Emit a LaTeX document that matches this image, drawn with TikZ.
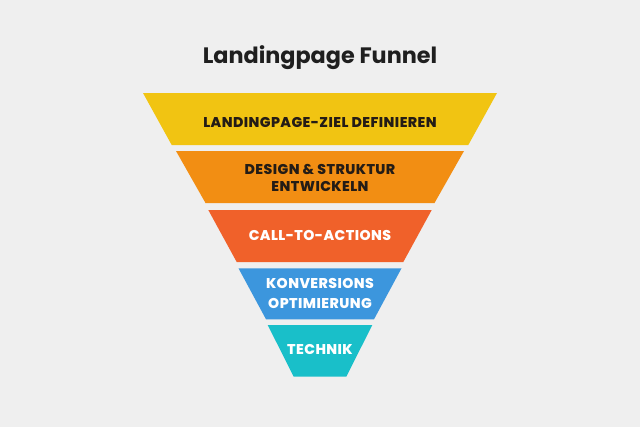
\documentclass[tikz,border=0pt]{standalone}
\usepackage{fontspec}
\setmainfont{Poppins}
\newfontfamily\titlefont{Poppins}[UprightFont=* Bold]
\newfontfamily\labelfont{Poppins}[UprightFont=* ExtraBold,LetterSpace=3]
\definecolor{bgc}{HTML}{EFEFEF}
\definecolor{c1}{HTML}{F1C412}
\definecolor{c2}{HTML}{F28E13}
\definecolor{c3}{HTML}{F0612A}
\definecolor{c4}{HTML}{3C96DD}
\definecolor{c5}{HTML}{19BFC9}
\definecolor{darktext}{HTML}{241C16}
\tikzset{
  lbl/.style={font=\labelfont\fontsize{14.2}{17.7}\selectfont, align=center, inner sep=0pt},
  titlestyle/.style={font=\titlefont\fontsize{22.4}{26}\selectfont, text=black!88, inner sep=0pt}
}
\newcommand{\funnellayer}[5]{%
  \fill[#5] (320-#3,#1) -- (320+#3,#1) -- (320+#4,#2) -- (320-#4,#2) -- cycle;}
\begin{document}
\begin{tikzpicture}[x=1bp,y=-1bp]
\fill[bgc] (0,0) rectangle (640,427);
\useasboundingbox (0,0) rectangle (640,427);
\node[titlestyle, anchor=base] (title) at (320,63.3) {Landingpage Funnel};
\funnellayer{93}{145}{177}{148.3}{c1}
\funnellayer{151}{203}{144}{114.5}{c2}
\funnellayer{210}{262}{111.7}{83.3}{c3}
\funnellayer{268.3}{319.3}{81.5}{54}{c4}
\funnellayer{325}{376.7}{52.3}{26.3}{c5}
\node[lbl, text=darktext, anchor=base] (l1) at (320,127.3) {LANDINGPAGE-ZIEL DEFINIEREN};
\node[lbl, text=darktext, anchor=base] (l2) at (320,191.7) {DESIGN \& STRUKTUR\\ENTWICKELN};
\node[lbl, text=white, anchor=base] (l3) at (320,240.7) {CALL-TO-ACTIONS};
\node[lbl, text=white, anchor=base] (l4) at (320,308.3) {KONVERSIONS\\[2.3bp]OPTIMIERUNG};
\node[lbl, text=white, anchor=base] (l5) at (320,354) {TECHNIK};
\end{tikzpicture}
\end{document}
